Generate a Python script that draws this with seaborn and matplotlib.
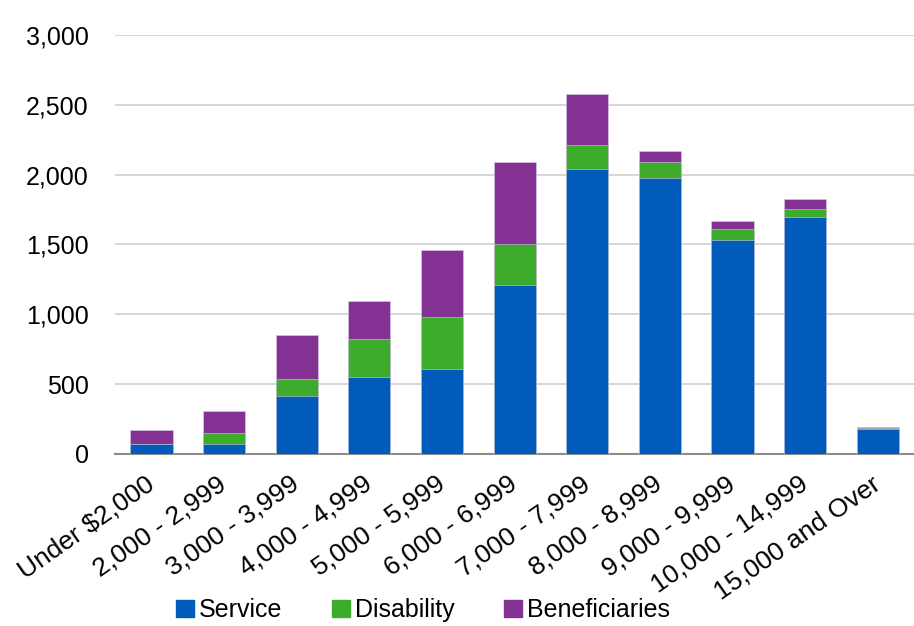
import seaborn as sns
import matplotlib.pyplot as plt
import pandas as pd
from matplotlib.patches import Patch

categories = ["Under $2,000", "2,000 - 2,999", "3,000 - 3,999", "4,000 - 4,999",
              "5,000 - 5,999", "6,000 - 6,999", "7,000 - 7,999", "8,000 - 8,999",
              "9,000 - 9,999", "10,000 - 14,999", "15,000 and Over"]
service = [67, 72, 411, 554, 609, 1206, 2041, 1979, 1535, 1700, 175]
disability = [5, 74, 122, 267, 368, 300, 174, 109, 76, 57, 7]
beneficiaries = [96, 160, 315, 272, 481, 587, 363, 79, 55, 72, 9]
series_names = ["Service", "Disability", "Beneficiaries"]
colors = ["#005BBB", "#3DAB2C", "#843394"]

sns.set_theme(style="white")
plt.rcParams["font.family"] = ["Liberation Sans", "DejaVu Sans"]
plt.rcParams["text.color"] = "black"
plt.rcParams["xtick.color"] = "black"
plt.rcParams["ytick.color"] = "black"

df = pd.DataFrame({"category": categories, "service": service,
                   "disability": disability, "beneficiaries": beneficiaries})
# cumulative heights, drawn back to front to fake the stacking
df["top_dis"] = df["service"] + df["disability"]
df["top_ben"] = df["top_dis"] + df["beneficiaries"]

fig = plt.figure(figsize=(9.14, 6.26), dpi=100)
ax = fig.add_axes([0.126, 0.275, 0.874, 0.669])

for col, c in zip(["top_ben", "top_dis", "service"], colors[::-1]):
    sns.barplot(data=df, x="category", y=col, color=c, width=0.58,
                edgecolor="#D8CCE6", linewidth=0.4, saturation=1, ax=ax, zorder=3)

ax.set_ylim(0, 3000)
ax.set_xlim(-0.5, len(categories) - 0.5)
ax.set_yticks(range(0, 3001, 500))
ax.set_yticklabels([f"{v:,}" for v in range(0, 3001, 500)], fontsize=18)
ax.yaxis.grid(True, color="#D0D0D0", linewidth=1.2, zorder=0)
ax.set_axisbelow(True)
for s in ["top", "right", "left"]:
    ax.spines[s].set_visible(False)
ax.spines["bottom"].set_color("#8C8C8C")
ax.spines["bottom"].set_linewidth(1.5)
ax.tick_params(axis="y", length=0, pad=19)
ax.tick_params(axis="x", length=0, pad=20)
ax.set_xticks(range(len(categories)))
ax.set_xticklabels(categories, rotation=35, ha="right", va="center",
                   rotation_mode="anchor", fontsize=19)
ax.set_xlabel("")
ax.set_ylabel("")

handles = [Patch(color=c, label=n) for c, n in zip(colors, series_names)]
fig.legend(handles=handles, loc="center", bbox_to_anchor=(0.463, 0.025), ncol=3,
           frameon=False, fontsize=18, handlelength=0.7, handleheight=0.7,
           handletextpad=0.2, columnspacing=2.0)

fig.savefig("out.png", dpi=100)
